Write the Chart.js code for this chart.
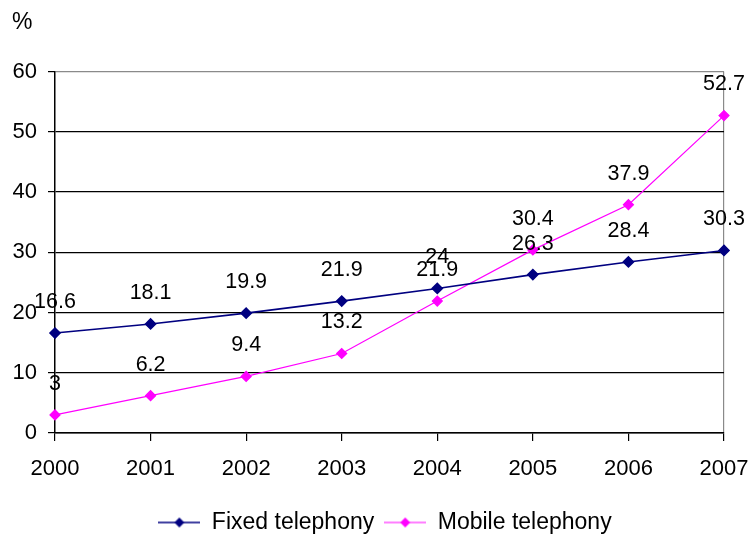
<!DOCTYPE html>
<html>
<head>
<meta charset="utf-8">
<script src="https://cdn.jsdelivr.net/npm/chart.js@4/dist/chart.umd.min.js"></script>
<style>
  html, body { margin: 0; padding: 0; background: #fff; }
  #wrap { width: 750px; height: 539px; }
</style>
</head>
<body>
<div id="wrap"><canvas id="c" width="750" height="539"></canvas></div>
<script>
// Telephony penetration, % of population
const years = ['2000', '2001', '2002', '2003', '2004', '2005', '2006', '2007'];
const fixedTelephony = [16.6, 18.1, 19.9, 21.9, 24, 26.3, 28.4, 30.3];
const mobileTelephony = [3, 6.2, 9.4, 13.2, 21.9, 30.4, 37.9, 52.7];
const yTicks = [0, 10, 20, 30, 40, 50, 60];
const seriesNames = ['Fixed telephony', 'Mobile telephony'];

const FIXED_COLOR = '#000080';
const MOBILE_COLOR = '#FF00FF';

Chart.defaults.font.family = '"Liberation Sans", Arial, sans-serif';
Chart.defaults.color = '#000';

// Legend swatch: short line with a diamond marker in the middle
function legendSwatch(color, lineWidth) {
  const cv = document.createElement('canvas');
  cv.width = 42; cv.height = 12;
  const g = cv.getContext('2d');
  g.strokeStyle = color;
  g.lineWidth = lineWidth;
  g.beginPath(); g.moveTo(0, 6); g.lineTo(42, 6); g.stroke();
  g.fillStyle = color;
  g.beginPath();
  g.moveTo(21, 1); g.lineTo(26, 6); g.lineTo(21, 11); g.lineTo(16, 6); g.closePath();
  g.fill();
  return cv;
}
const swatches = [legendSwatch(FIXED_COLOR, 1.6), legendSwatch(MOBILE_COLOR, 1.2)];

// Value labels above every point
const valueLabels = {
  id: 'valueLabels',
  afterDatasetsDraw(chart) {
    const ctx = chart.ctx;
    ctx.save();
    ctx.font = '21.5px "Liberation Sans", Arial, sans-serif';
    ctx.fillStyle = '#000';
    ctx.textAlign = 'center';
    ctx.textBaseline = 'middle';
    chart.data.datasets.forEach((ds, di) => {
      const meta = chart.getDatasetMeta(di);
      meta.data.forEach((pt, i) => {
        ctx.fillText(String(ds.data[i]), pt.x, pt.y - 31);
      });
    });
    ctx.restore();
  }
};

// Nudge the legend row so it sits centred under the plot area
const legendShift = {
  id: 'legendShift',
  afterLayout(chart) {
    if (chart.legend) {
      chart.legend.left += 17;
      chart.legend.right += 17;
    }
  }
};

new Chart(document.getElementById('c'), {
  type: 'line',
  data: {
    labels: years,
    datasets: [
      {
        label: seriesNames[0],
        data: fixedTelephony,
        borderColor: FIXED_COLOR,
        backgroundColor: FIXED_COLOR,
        borderWidth: 1.6,
        pointStyle: 'rectRot',
        pointRadius: 5,
        pointHoverRadius: 5,
        tension: 0
      },
      {
        label: seriesNames[1],
        data: mobileTelephony,
        borderColor: MOBILE_COLOR,
        backgroundColor: MOBILE_COLOR,
        borderWidth: 1.2,
        pointStyle: 'rectRot',
        pointRadius: 5,
        pointHoverRadius: 5,
        tension: 0
      }
    ]
  },
  options: {
    responsive: false,
    animation: false,
    devicePixelRatio: 1,
    layout: { padding: { left: 12, right: 26, top: 0, bottom: -5 } },
    plugins: {
      title: {
        display: true,
        text: '%',
        align: 'start',
        color: '#000',
        font: { size: 23, weight: 'normal' },
        padding: { top: 9, bottom: 35 }
      },
      legend: {
        position: 'bottom',
        labels: {
          usePointStyle: true,
          pointStyleWidth: 42,
          padding: 10,
          color: '#000',
          font: { size: 23 },
          generateLabels(chart) {
            const items = Chart.defaults.plugins.legend.labels.generateLabels(chart);
            items.forEach((it, i) => { it.pointStyle = swatches[i]; });
            return items;
          }
        }
      },
      tooltip: { enabled: false }
    },
    scales: {
      x: {
        type: 'category',
        offset: false,
        afterFit(scale) {
          scale.height = 68;
          scale.paddingLeft = 0;
          scale.paddingRight = 0;
        },
        grid: {
          offset: false,
          drawOnChartArea: true,
          color: (c) => (c.index === years.length - 1 ? '#8a8a8a' : 'rgba(0,0,0,0)'),
          tickColor: '#000',
          tickLength: 8,
          lineWidth: 1.2
        },
        border: { display: true, color: '#000', width: 1.5 },
        ticks: {
          font: { size: 22 },
          color: '#000',
          padding: 15,
          maxRotation: 0,
          autoSkip: false
        }
      },
      y: {
        min: yTicks[0],
        max: yTicks[yTicks.length - 1],
        afterFit(scale) { scale.width = 43; },
        afterBuildTicks(scale) { scale.ticks = yTicks.map(v => ({ value: v })); },
        grid: {
          color: (c) => (c.tick && c.tick.value === 60 ? '#8a8a8a' : '#000'),
          tickColor: '#000',
          tickLength: 7,
          lineWidth: 1.2
        },
        border: { display: true, color: '#000', width: 1.5 },
        ticks: {
          font: { size: 22 },
          color: '#000',
          padding: 11
        }
      }
    }
  },
  plugins: [valueLabels, legendShift]
});
</script>
</body>
</html>
